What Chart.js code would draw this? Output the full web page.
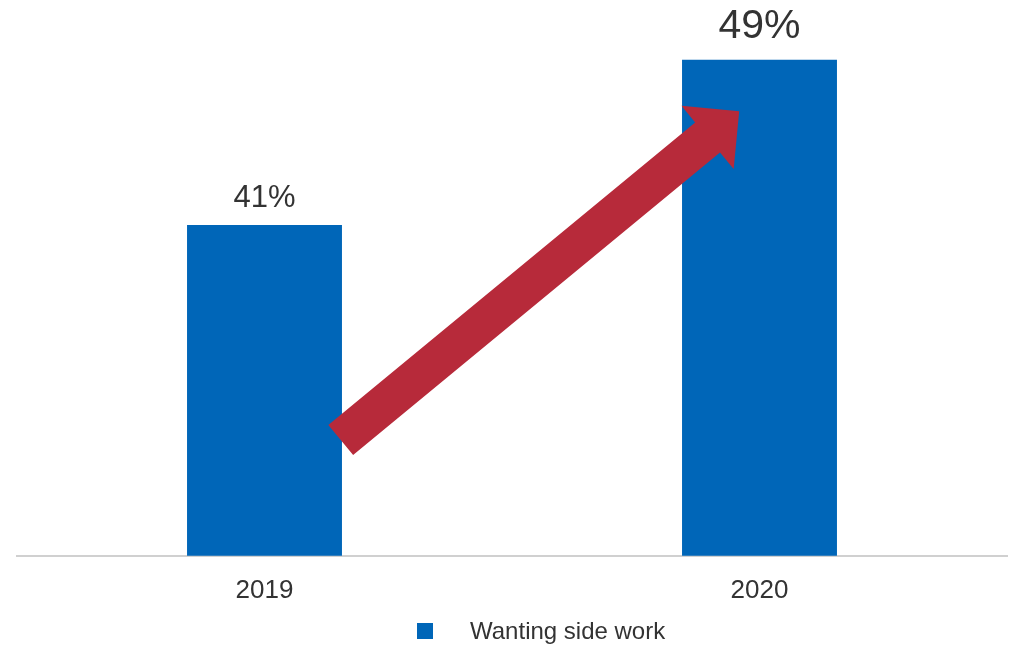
<!DOCTYPE html>
<html>
<head>
<meta charset="utf-8">
<script src="https://cdn.jsdelivr.net/npm/chart.js@4/dist/chart.umd.min.js"></script>
<style>
  body { margin: 0; background: #fff; }
  canvas { display: block; }
</style>
</head>
<body>
<canvas id="chart" width="1014" height="646"></canvas>
<script>
// data
var years = ["2019", "2020"]
var wantingSideWork = [41, 49]
var seriesLabel = "Wanting side work"

// arrow ends, as [category index, value]
var arrowFrom = [0.154, 30.6]
var arrowTo = [0.959, 46.5]

// styles
var barColor = "#0066b8"
var arrowColor = "#b72a3a"
var textColor = "#333333"
var fontName = "'Liberation Sans', Arial, sans-serif"
var labelSizes = [31, 41]
var labelGaps = [18, 22]

// value labels over the bars
var barLabels = {
  id: "barLabels",
  afterDatasetsDraw: function(chart) {
    var ctx = chart.ctx
    var meta = chart.getDatasetMeta(0)
    ctx.save()
    ctx.fillStyle = textColor
    ctx.textAlign = "center"
    ctx.textBaseline = "alphabetic"
    meta.data.forEach(function(bar, i) {
      ctx.font = labelSizes[i] + "px " + fontName
      ctx.fillText(wantingSideWork[i] + "%", bar.x, bar.y - labelGaps[i])
    })
    ctx.restore()
  }
}

// the red arrow from 2019 up to 2020
var trendArrow = {
  id: "trendArrow",
  afterDatasetsDraw: function(chart) {
    var xs = chart.scales.x
    var ys = chart.scales.y
    var tx = xs.getPixelForValue(arrowFrom[0]), ty = ys.getPixelForValue(arrowFrom[1])
    var px = xs.getPixelForValue(arrowTo[0]), py = ys.getPixelForValue(arrowTo[1])
    var len = Math.sqrt((px - tx) * (px - tx) + (py - ty) * (py - ty))
    var ux = (px - tx) / len, uy = (py - ty) / len
    var nx = -uy, ny = ux
    var shaft = 19.5, head = 41, headLen = 41
    var bx = px - ux * headLen, by = py - uy * headLen
    var ctx = chart.ctx
    ctx.save()
    ctx.fillStyle = arrowColor
    ctx.beginPath()
    ctx.moveTo(tx + nx * shaft, ty + ny * shaft)
    ctx.lineTo(bx + nx * shaft, by + ny * shaft)
    ctx.lineTo(bx + nx * head, by + ny * head)
    ctx.lineTo(px, py)
    ctx.lineTo(bx - nx * head, by - ny * head)
    ctx.lineTo(bx - nx * shaft, by - ny * shaft)
    ctx.lineTo(tx - nx * shaft, ty - ny * shaft)
    ctx.closePath()
    ctx.fill()
    ctx.restore()
  }
}

// legend drawn by hand, the box/text gap is wider than chart.js gives
var bottomLegend = {
  id: "bottomLegend",
  afterDraw: function(chart) {
    var ctx = chart.ctx
    ctx.save()
    ctx.fillStyle = barColor
    ctx.fillRect(417, 623, 16, 16)
    ctx.fillStyle = textColor
    ctx.font = "24px " + fontName
    ctx.textAlign = "left"
    ctx.textBaseline = "alphabetic"
    ctx.fillText(seriesLabel, 470, 639)
    ctx.restore()
  }
}

var ctx = document.getElementById("chart").getContext("2d")
var chart = new Chart(ctx, {
  type: "bar",
  data: {
    labels: years,
    datasets: [{
      label: seriesLabel,
      data: wantingSideWork,
      backgroundColor: barColor,
      barPercentage: 0.313,
      categoryPercentage: 1
    }]
  },
  options: {
    responsive: false,
    animation: false,
    layout: { padding: { top: 39, left: 17, right: 7, bottom: 21 } },
    plugins: {
      legend: { display: false },
      tooltip: { enabled: false }
    },
    scales: {
      x: {
        grid: { display: false, drawTicks: false, tickLength: 0 },
        border: { display: true, color: "#d0d0d0", width: 2 },
        ticks: {
          color: textColor,
          padding: 19,
          font: { family: fontName, size: 26 }
        }
      },
      y: {
        display: false,
        min: 25,
        max: 50
      }
    }
  },
  plugins: [barLabels, trendArrow, bottomLegend]
})
</script>
</body>
</html>
